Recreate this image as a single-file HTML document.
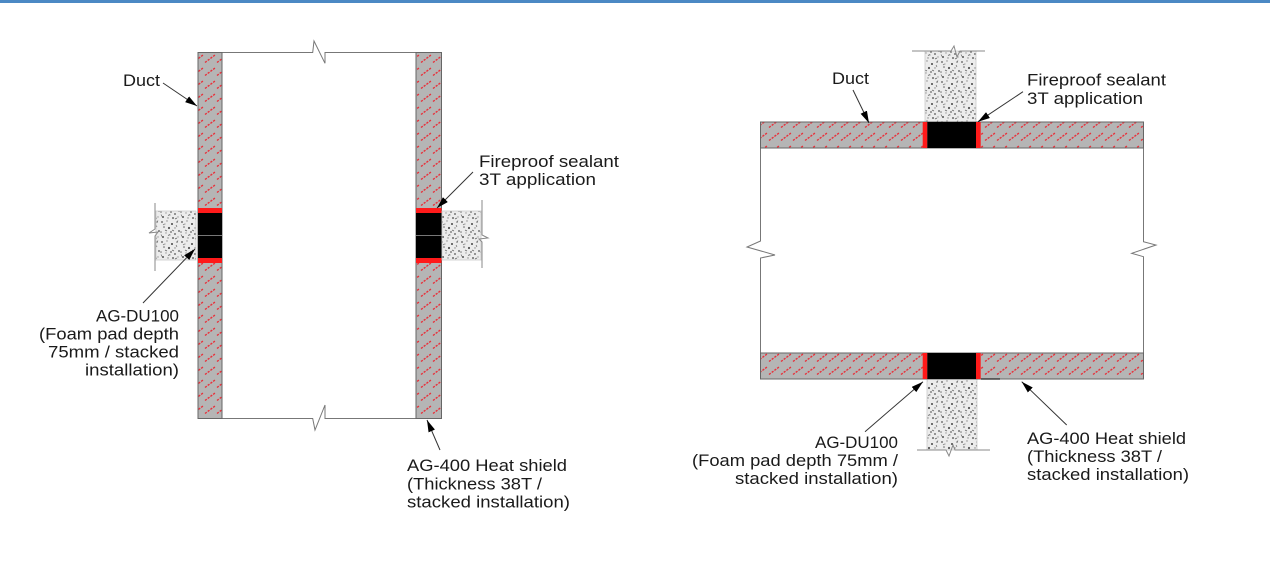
<!DOCTYPE html>
<html>
<head>
<meta charset="utf-8">
<style>
  html,body{margin:0;padding:0;background:#fff;}
  body{width:1270px;height:571px;overflow:hidden;position:relative;}
  .bar{position:absolute;left:0;top:0;width:1270px;height:3px;background:#4b89c4;}
  svg{position:absolute;left:0;top:0;}
  text{font-family:"Liberation Sans","NanumGothic",sans-serif;font-size:16.5px;fill:#1a1a1a;}
</style>
</head>
<body>
<div class="bar"></div>
<svg width="1270" height="571" viewBox="0 0 1270 571" xmlns="http://www.w3.org/2000/svg">
  <defs>
    <pattern id="hatch" patternUnits="userSpaceOnUse" width="12" height="13">
      <rect width="12" height="13" fill="#b5b5b5"/>
      <line x1="1" y1="10.5" x2="11" y2="3" stroke="#e8303a" stroke-width="1.4" stroke-dasharray="2.2 1.2"/>
    </pattern>
    <pattern id="conc" patternUnits="userSpaceOnUse" width="20" height="20">
      <rect width="20" height="20" fill="#ececec"/>
      <g>
        <circle cx="2" cy="2" r="0.9" fill="#555"/>
        <circle cx="7" cy="1" r="0.7" fill="#888"/>
        <circle cx="12" cy="4" r="1" fill="#444"/>
        <circle cx="17" cy="2" r="0.8" fill="#777"/>
        <circle cx="4" cy="7" r="0.8" fill="#666"/>
        <circle cx="9" cy="8" r="1.1" fill="#555"/>
        <circle cx="15" cy="8" r="0.7" fill="#888"/>
        <circle cx="19" cy="11" r="0.9" fill="#555"/>
        <circle cx="1" cy="12" r="0.8" fill="#777"/>
        <circle cx="6" cy="13" r="0.7" fill="#999"/>
        <circle cx="11" cy="12" r="0.9" fill="#666"/>
        <circle cx="15" cy="14" r="1" fill="#777"/>
        <circle cx="3" cy="17" r="1" fill="#555"/>
        <circle cx="8" cy="18" r="0.7" fill="#888"/>
        <circle cx="13" cy="18" r="0.9" fill="#444"/>
        <circle cx="18" cy="17" r="0.7" fill="#999"/>
        <circle cx="10" cy="15" r="0.5" fill="#666"/>
        <circle cx="5" cy="4" r="0.5" fill="#777"/>
        <path d="M5 10 l2 1 M16 5 l1 2 M8 15.5 l2 -1 M18 0.5 l-1 2 M12 10 l2 1 M1 14.5 l1 2 M15 19 l2 -1 M3 5 l1.5 -1" stroke="#666" stroke-width="0.7"/>
      </g>
    </pattern>
    <marker id="ah" viewBox="0 0 12 7" refX="12" refY="3.5" markerWidth="12" markerHeight="7" markerUnits="userSpaceOnUse" orient="auto">
      <path d="M0,0 L12,3.5 L0,7 z" fill="#000"/>
    </marker>
  </defs>

  <!-- ================= LEFT DIAGRAM ================= -->
  <polyline points="222,52.5 312.7,52.5 314,41 325,63.3 325,52.5 416,52.5" fill="none" stroke="#777" stroke-width="1"/>
  <polyline points="222,418.5 312.7,418.5 315,430 325,405 325,418.5 416,418.5" fill="none" stroke="#777" stroke-width="1"/>

  <rect x="198" y="52.5" width="24" height="366" fill="url(#hatch)" stroke="#666" stroke-width="1"/>
  <rect x="416" y="52.5" width="25.5" height="366" fill="url(#hatch)" stroke="#666" stroke-width="1"/>

  <rect x="198" y="208" width="24" height="5" fill="#ff1a1a"/>
  <rect x="198" y="213" width="24" height="45" fill="#000"/>
  <line x1="198" y1="235.5" x2="222" y2="235.5" stroke="#777" stroke-width="1"/>
  <rect x="198" y="258" width="24" height="5" fill="#ff1a1a"/>
  <rect x="416" y="208" width="25.5" height="5" fill="#ff1a1a"/>
  <rect x="416" y="213" width="25.5" height="45" fill="#000"/>
  <line x1="416" y1="235.5" x2="441.5" y2="235.5" stroke="#777" stroke-width="1"/>
  <rect x="416" y="258" width="25.5" height="5" fill="#ff1a1a"/>

  <rect x="156" y="211" width="40" height="49" fill="url(#conc)" stroke="#ccc" stroke-width="0.8"/>
  <polyline points="155,203 155,229 149,233 158,232 155,236 155,271" fill="none" stroke="#888" stroke-width="1"/>
  <rect x="442" y="211" width="39" height="49" fill="url(#conc)" stroke="#ccc" stroke-width="0.8"/>
  <polyline points="482,200 482,235 488,238 479,239 482,242 482,268" fill="none" stroke="#888" stroke-width="1"/>

  <line x1="163" y1="83" x2="197" y2="106" stroke="#333" stroke-width="1" marker-end="url(#ah)"/>
  <line x1="473" y1="172" x2="437" y2="208" stroke="#333" stroke-width="1" marker-end="url(#ah)"/>
  <line x1="143" y1="303" x2="195" y2="249" stroke="#333" stroke-width="1" marker-end="url(#ah)"/>
  <line x1="440" y1="450" x2="427" y2="420" stroke="#333" stroke-width="1" marker-end="url(#ah)"/>

  <text x="123" y="86" textLength="37" lengthAdjust="spacingAndGlyphs">Duct</text>
  <text x="479" y="167" textLength="140" lengthAdjust="spacingAndGlyphs">Fireproof sealant</text>
  <text x="479" y="185" textLength="117" lengthAdjust="spacingAndGlyphs">3T application</text>

  <text x="96" y="321.5" textLength="83" lengthAdjust="spacingAndGlyphs">AG-DU100</text>
  <text x="39" y="339.5" textLength="140" lengthAdjust="spacingAndGlyphs">(Foam pad depth</text>
  <text x="48" y="357.5" textLength="131" lengthAdjust="spacingAndGlyphs">75mm / stacked</text>
  <text x="85" y="375.5" textLength="94" lengthAdjust="spacingAndGlyphs">installation)</text>

  <text x="407" y="471" textLength="160" lengthAdjust="spacingAndGlyphs">AG-400 Heat shield</text>
  <text x="407" y="489.5" textLength="135" lengthAdjust="spacingAndGlyphs">(Thickness 38T /</text>
  <text x="407" y="507.5" textLength="163" lengthAdjust="spacingAndGlyphs">stacked installation)</text>

  <!-- ================= RIGHT DIAGRAM ================= -->
  <polyline points="760.5,148 760.5,241 747,247 775,255 760.5,258 760.5,353" fill="none" stroke="#777" stroke-width="1"/>
  <polyline points="1143.5,148 1143.5,241.7 1156,245 1131.7,253.3 1143.5,256.7 1143.5,353" fill="none" stroke="#777" stroke-width="1"/>

  <rect x="925" y="51" width="51" height="71" fill="url(#conc)" stroke="#ccc" stroke-width="0.8"/>
  <polyline points="912,51 951,51 954,46 957,57 960,51 985,51" fill="none" stroke="#888" stroke-width="1"/>
  <rect x="927" y="379" width="50" height="71" fill="url(#conc)" stroke="#ccc" stroke-width="0.8"/>
  <polyline points="917,450 946,450 949,456 953,445 955,450 990,450" fill="none" stroke="#888" stroke-width="1"/>

  <rect x="760.5" y="122" width="383" height="26" fill="url(#hatch)" stroke="#666" stroke-width="1"/>
  <rect x="922.7" y="122" width="4.6" height="26" fill="#ff1a1a"/>
  <rect x="927.3" y="122" width="48.7" height="26" fill="#000"/>
  <rect x="976" y="122" width="4.7" height="26" fill="#ff1a1a"/>

  <rect x="760.5" y="353" width="383" height="26" fill="url(#hatch)" stroke="#666" stroke-width="1"/>
  <rect x="922.7" y="353" width="4.6" height="26" fill="#ff1a1a"/>
  <rect x="927.3" y="353" width="48.7" height="26" fill="#000"/>
  <rect x="976" y="353" width="4.7" height="26" fill="#ff1a1a"/>
  <line x1="981" y1="379" x2="1000" y2="379" stroke="#222" stroke-width="1.2"/>

  <line x1="853" y1="90" x2="869" y2="123" stroke="#333" stroke-width="1" marker-end="url(#ah)"/>
  <line x1="1023" y1="91.7" x2="978" y2="121.7" stroke="#333" stroke-width="1" marker-end="url(#ah)"/>
  <line x1="865" y1="431.7" x2="923" y2="381.7" stroke="#333" stroke-width="1" marker-end="url(#ah)"/>
  <line x1="1066.7" y1="425" x2="1021.7" y2="381.7" stroke="#333" stroke-width="1" marker-end="url(#ah)"/>

  <text x="832" y="84" textLength="37" lengthAdjust="spacingAndGlyphs">Duct</text>
  <text x="1027" y="85.5" textLength="139" lengthAdjust="spacingAndGlyphs">Fireproof sealant</text>
  <text x="1027" y="104" textLength="116" lengthAdjust="spacingAndGlyphs">3T application</text>

  <text x="815" y="448" textLength="83" lengthAdjust="spacingAndGlyphs">AG-DU100</text>
  <text x="692" y="466" textLength="206" lengthAdjust="spacingAndGlyphs">(Foam pad depth 75mm /</text>
  <text x="735" y="484" textLength="163" lengthAdjust="spacingAndGlyphs">stacked installation)</text>

  <text x="1027" y="444" textLength="159" lengthAdjust="spacingAndGlyphs">AG-400 Heat shield</text>
  <text x="1027" y="462" textLength="135" lengthAdjust="spacingAndGlyphs">(Thickness 38T /</text>
  <text x="1027" y="480" textLength="162" lengthAdjust="spacingAndGlyphs">stacked installation)</text>
</svg>
</body>
</html>
